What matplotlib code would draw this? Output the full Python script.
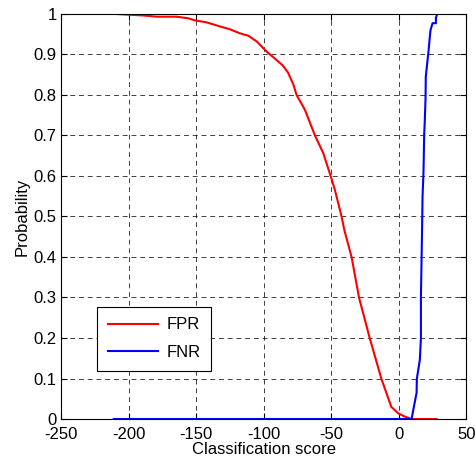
import matplotlib
matplotlib.use("Agg")
import matplotlib.pyplot as plt

plt.rcParams["font.family"] = ["Liberation Sans", "DejaVu Sans"]

# FPR curve
fpr_x = [-211, -200, -189, -179, -164.4, -155.8, -150.9, -142.2, -132.4, -125,
         -117.6, -111.4, -105.2, -102.8, -97.9, -91.5, -86, -82, -78, -75.7,
         -69.5, -62.1, -55.9, -53.5, -50.5, -47.3, -42.4, -40.4, -35, -29.5,
         -21.6, -13, -5.6, -0.5, 4.4, 9.4, 28]
fpr_y = [1.0, 0.998, 0.996, 0.993, 0.993, 0.989, 0.984, 0.979, 0.969, 0.962,
         0.952, 0.946, 0.932, 0.924, 0.907, 0.889, 0.873, 0.855, 0.825, 0.8,
         0.763, 0.7, 0.656, 0.631, 0.6, 0.565, 0.5, 0.467, 0.4, 0.3,
         0.2, 0.1, 0.03, 0.014, 0.006, 0.0, 0.0]

# FNR curve
fnr_x = [-211, 9.4, 10.4, 13.1, 13.3, 15.5, 16.3, 16.3, 16.8, 17.3, 17.5,
         18.1, 18.3, 18.7, 19.2, 19.7, 19.9, 21.2, 21.7, 22.9, 23.4, 24.9,
         27.4, 27.4, 28.3]
fnr_y = [0.0, 0.0, 0.018, 0.065, 0.1, 0.146, 0.2, 0.3, 0.4, 0.5, 0.55,
         0.6, 0.627, 0.7, 0.74, 0.79, 0.845, 0.886, 0.9, 0.944, 0.96, 0.977,
         0.977, 0.99, 1.0]

xticks = [-250, -200, -150, -100, -50, 0, 50]
xtick_labels = ["-250", "-200", "-150", "-100", "-50", "0", "50"]
yticks = [0, 0.1, 0.2, 0.3, 0.4, 0.5, 0.6, 0.7, 0.8, 0.9, 1]
ytick_labels = ["0", "0.1", "0.2", "0.3", "0.4", "0.5", "0.6", "0.7", "0.8", "0.9", "1"]

fig = plt.figure(figsize=(4.76, 4.62), dpi=100)
ax = fig.add_axes([0.128, 0.093, 0.852, 0.877])

ax.plot(fpr_x, fpr_y, color="red", linewidth=1.5, label="FPR")
ax.plot(fnr_x, fnr_y, color="blue", linewidth=1.5, label="FNR")

ax.set_xlim(-250, 50)
ax.set_ylim(0, 1)
ax.set_xticks(xticks)
ax.set_xticklabels(xtick_labels)
ax.set_yticks(yticks)
ax.set_yticklabels(ytick_labels)
ax.tick_params(direction="in", length=4, labelsize=12, top=True, right=True,
               labeltop=False, labelright=False)
ax.tick_params(axis="x", pad=6)
ax.tick_params(axis="y", pad=3)
ax.grid(True, color="black", linestyle=(0, (5, 4)), linewidth=0.7, alpha=0.75)

for s in ax.spines.values():
    s.set_linewidth(0.8)

ax.set_xlabel("Classification score", fontsize=12, labelpad=0)
ax.set_ylabel("Probability", fontsize=12, labelpad=3)

leg = ax.legend(loc="lower left", bbox_to_anchor=(0.089, 0.119), borderaxespad=0,
                fontsize=12, handlelength=3.0, labelspacing=0.75, borderpad=0.65,
                handletextpad=0.5, fancybox=False, framealpha=1)
leg.get_frame().set_edgecolor("black")
leg.get_frame().set_linewidth(0.8)

fig.savefig("out.png", dpi=100)
